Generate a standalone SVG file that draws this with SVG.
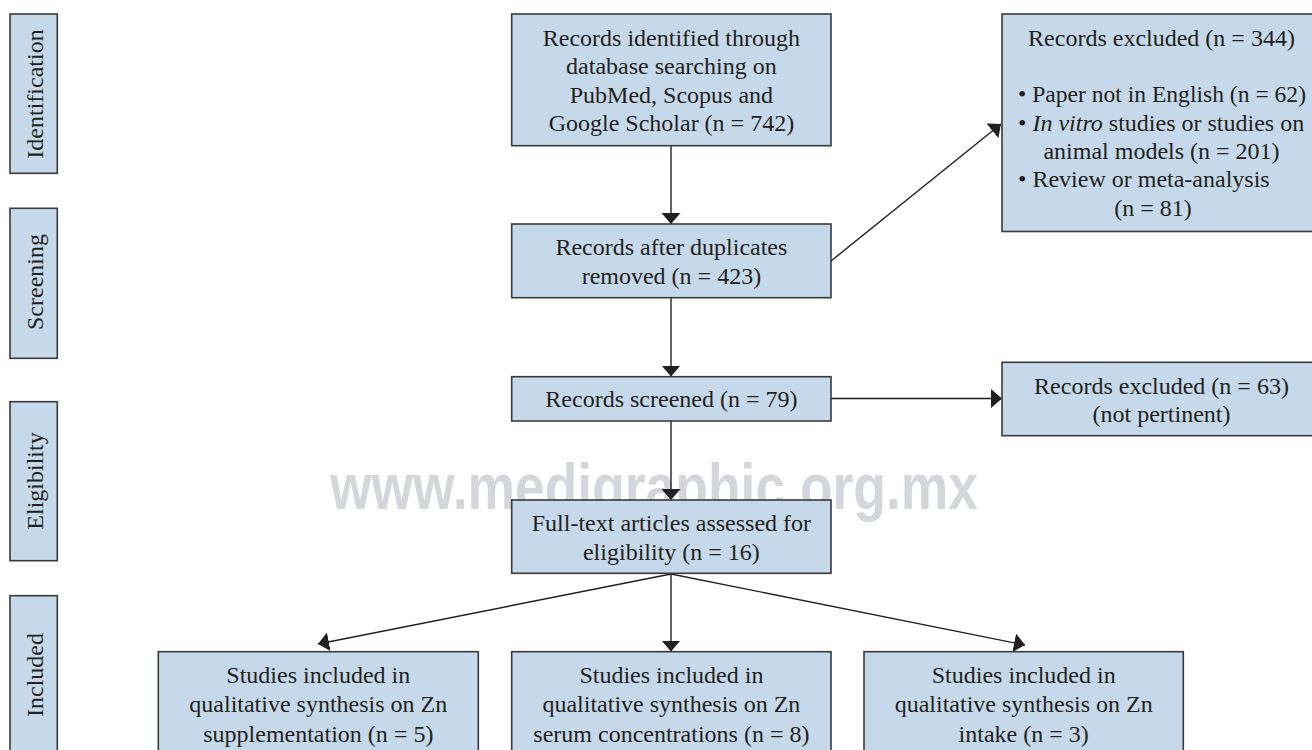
<svg xmlns="http://www.w3.org/2000/svg" width="1312" height="750" viewBox="0 0 1312 750">
<style>
.box{fill:#c6d9ea;stroke:#3a3a3a;stroke-width:1.6}
.t{font-family:"Liberation Serif","Times New Roman",serif;font-size:24px;fill:#231f20;text-anchor:middle}
.tl{font-family:"Liberation Serif","Times New Roman",serif;font-size:24px;fill:#231f20;text-anchor:start}
.side{font-family:"Liberation Serif","Times New Roman",serif;font-size:24px;fill:#231f20;text-anchor:middle}
.ln{stroke:#231f20;stroke-width:1.4;fill:none}
.wm{font-family:"Liberation Sans",Arial,sans-serif;font-weight:bold;font-size:64px;fill:#d4d6d9}
</style>
<defs>
<marker id="ah" markerUnits="userSpaceOnUse" markerWidth="12" markerHeight="20" refX="11" refY="9.5" orient="auto">
<path d="M0,0 L11,9.5 L0,19 Z" fill="#231f20"/>
</marker>
</defs>
<rect width="1312" height="750" fill="#ffffff"/>
<text class="wm" x="330" y="509" textLength="648" lengthAdjust="spacingAndGlyphs">www.medigraphic.org.mx</text>

<g id="connectors">
<line class="ln" x1="671" y1="146" x2="671" y2="224" marker-end="url(#ah)"/>
<line class="ln" x1="671" y1="298" x2="671" y2="376.5" marker-end="url(#ah)"/>
<line class="ln" x1="671" y1="421" x2="671" y2="500" marker-end="url(#ah)"/>
<line class="ln" x1="671" y1="573.5" x2="671" y2="651.5" marker-end="url(#ah)"/>
<line class="ln" x1="831" y1="261" x2="1001" y2="124" marker-end="url(#ah)"/>
<line class="ln" x1="831" y1="398.5" x2="1002" y2="398.5" marker-end="url(#ah)"/>
<line class="ln" x1="671" y1="574" x2="318" y2="644" marker-end="url(#ah)"/>
<line class="ln" x1="671" y1="574" x2="1025" y2="645" marker-end="url(#ah)"/>
</g>

<g id="side-identification">
<rect class="box" x="10" y="14" width="47.3" height="159.3"/>
<text class="side" transform="translate(42.5,94) rotate(-90)">Identification</text>
</g>
<g id="side-screening">
<rect class="box" x="10" y="208.3" width="47.3" height="150"/>
<text class="side" transform="translate(42.5,282) rotate(-90)">Screening</text>
</g>
<g id="side-eligibility">
<rect class="box" x="10" y="401.7" width="47.3" height="159"/>
<text class="side" transform="translate(42.5,481) rotate(-90)">Eligibility</text>
</g>
<g id="side-included">
<rect class="box" x="10" y="595.7" width="47.3" height="160"/>
<text class="side" transform="translate(42.5,675) rotate(-90)">Included</text>
</g>

<g id="identified">
<rect class="box" x="511.7" y="14" width="319.3" height="131.7"/>
<text class="t" x="671.4" y="45.5">Records identified through</text>
<text class="t" x="671.4" y="74">database searching on</text>
<text class="t" x="671.4" y="102.5">PubMed, Scopus and</text>
<text class="t" x="671.4" y="131">Google Scholar (n = 742)</text>
</g>

<g id="duplicates">
<rect class="box" x="511.7" y="224" width="319.3" height="73.7"/>
<text class="t" x="671.4" y="255">Records after duplicates</text>
<text class="t" x="671.4" y="284">removed (n = 423)</text>
</g>

<g id="screened">
<rect class="box" x="511.7" y="376.7" width="319.3" height="44.3"/>
<text class="t" x="671.4" y="407">Records screened (n = 79)</text>
</g>

<g id="fulltext">
<rect class="box" x="511.7" y="500" width="319.3" height="73.3"/>
<text class="t" x="671.4" y="530.5">Full-text articles assessed for</text>
<text class="t" x="671.4" y="560">eligibility (n = 16)</text>
</g>

<g id="excluded-344">
<rect class="box" x="1002" y="14" width="320" height="217.5"/>
<text class="t" x="1161.5" y="45.5">Records excluded (n = 344)</text>
<text class="tl" x="1018" y="102" textLength="288" lengthAdjust="spacingAndGlyphs">• Paper not in English (n = 62)</text>
<text class="tl" x="1018" y="130.5">• <tspan font-style="italic">In vitro</tspan> studies or studies on</text>
<text class="t" x="1161.5" y="158.5">animal models (n = 201)</text>
<text class="tl" x="1018" y="187">• Review or meta-analysis</text>
<text class="t" x="1153" y="215.5">(n = 81)</text>
</g>

<g id="excluded-63">
<rect class="box" x="1002" y="362.3" width="320" height="73.4"/>
<text class="t" x="1161.5" y="393.5">Records excluded (n = 63)</text>
<text class="t" x="1161.5" y="422">(not pertinent)</text>
</g>

<g id="included-supplementation">
<rect class="box" x="158.3" y="651.7" width="320" height="110"/>
<text class="t" x="318.3" y="682.5">Studies included in</text>
<text class="t" x="318.3" y="712">qualitative synthesis on Zn</text>
<text class="t" x="318.3" y="741.5">supplementation (n = 5)</text>
</g>

<g id="included-serum">
<rect class="box" x="511.7" y="651.7" width="319.3" height="110"/>
<text class="t" x="671.4" y="682.5">Studies included in</text>
<text class="t" x="671.4" y="712">qualitative synthesis on Zn</text>
<text class="t" x="671.4" y="741.5">serum concentrations (n = 8)</text>
</g>

<g id="included-intake">
<rect class="box" x="864" y="651.7" width="319.3" height="110"/>
<text class="t" x="1023.7" y="682.5">Studies included in</text>
<text class="t" x="1023.7" y="712">qualitative synthesis on Zn</text>
<text class="t" x="1023.7" y="741.5">intake (n = 3)</text>
</g>
</svg>
